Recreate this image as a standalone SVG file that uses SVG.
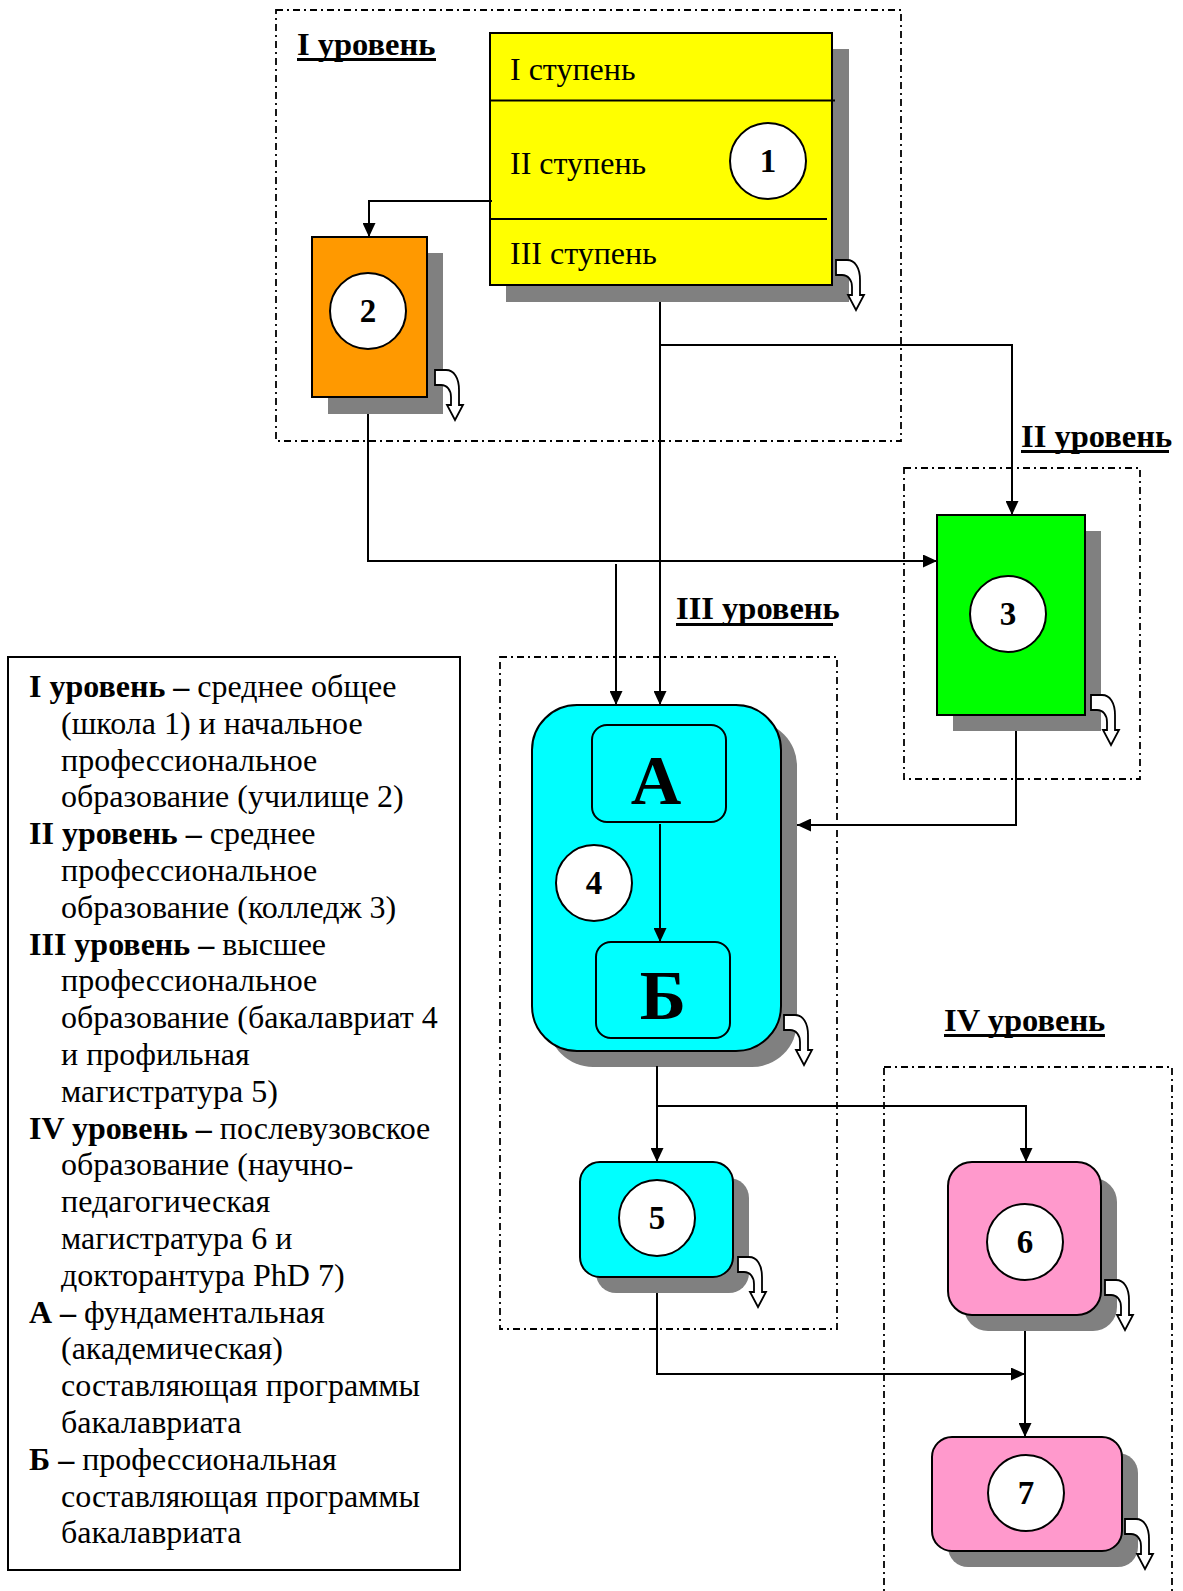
<svg xmlns="http://www.w3.org/2000/svg" width="1183" height="1591" viewBox="0 0 1183 1591">
<defs>
<style>
text{font-family:"Liberation Serif","Times New Roman",serif;fill:#000}
.lvl{fill:none;stroke:#000;stroke-width:1.8;stroke-dasharray:7 4 2 4}
.shd{fill:#808080;stroke:none}
.box{stroke:#000;stroke-width:2}
.circ{fill:#fff;stroke:#000;stroke-width:2}
.num{font-size:33px;font-weight:bold;text-anchor:middle}
.cap{font-size:32px}
.lab{font-size:32.5px;font-weight:bold}
.ul{fill:#000;stroke:none}
.leg{font-size:32px}
.big{font-size:70px;font-weight:bold;text-anchor:middle}
.con{fill:none;stroke:#000;stroke-width:2}
.arr{marker-end:url(#ah)}
.ca{fill:#fff;stroke:#000;stroke-width:1.8}
</style>
<marker id="ah" viewBox="0 0 14 13" refX="14" refY="6.5" markerWidth="14" markerHeight="13" markerUnits="userSpaceOnUse" orient="auto">
<path d="M0,0 L14,6.5 L0,13 Z" fill="#000"/>
</marker>
<path id="curl" d="M0,0 H11 C19,0 24,8 24,20 V35 H28 L20,50 L12,35 H16 V27 C16,20 12,15 6,15 H0 Z"/>
</defs>

<g id="levels">
<rect class="lvl" x="276" y="10" width="625" height="431"/>
<rect class="lvl" x="904" y="468" width="236" height="311"/>
<rect class="lvl" x="500" y="657" width="337" height="672"/>
<rect class="lvl" x="884" y="1067" width="288" height="600"/>
<text class="lab" x="297" y="55">I уровень</text>
<rect class="ul" x="297" y="58" width="139" height="3"/>
<text class="lab" x="1021" y="447">II уровень</text>
<rect class="ul" x="1021" y="450" width="148" height="3"/>
<text class="lab" x="676" y="619">III уровень</text>
<rect class="ul" x="676" y="623" width="157" height="3"/>
<text class="lab" x="944" y="1031">IV уровень</text>
<rect class="ul" x="944" y="1034" width="161" height="3"/>
</g>

<g id="node1">
<rect class="shd" x="506" y="49" width="343" height="253"/>
<rect class="box" x="490" y="33" width="342" height="252" fill="#ffff00"/>
<line x1="490" y1="100.5" x2="835" y2="100.5" stroke="#000" stroke-width="2"/>
<line x1="490" y1="219" x2="827" y2="219" stroke="#000" stroke-width="2"/>
<text class="cap" x="510" y="80">I ступень</text>
<text class="cap" x="510" y="174">II ступень</text>
<text class="cap" x="510" y="264">III ступень</text>
<circle class="circ" cx="768" cy="161" r="38"/>
<text class="num" x="768" y="172">1</text>
<use href="#curl" class="ca" x="836" y="260"/>
</g>

<g id="node2">
<rect class="shd" x="328" y="253" width="115" height="161"/>
<rect class="box" x="312" y="237" width="115" height="160" fill="#ff9900"/>
<circle class="circ" cx="368" cy="311" r="38"/>
<text class="num" x="368" y="322">2</text>
<use href="#curl" class="ca" x="435" y="370"/>
</g>

<g id="node3">
<rect class="shd" x="953" y="531" width="148" height="200"/>
<rect class="box" x="937" y="515" width="148" height="200" fill="#00ff00"/>
<circle class="circ" cx="1008" cy="614" r="38"/>
<text class="num" x="1008" y="625">3</text>
<use href="#curl" class="ca" x="1091" y="695"/>
</g>

<g id="node4">
<rect class="shd" x="548" y="721" width="249" height="346" rx="45"/>
<rect class="box" x="532" y="705" width="249" height="346" rx="45" fill="#00ffff"/>
<rect class="box" x="592" y="725" width="134" height="97" rx="15" fill="#00ffff"/>
<text class="big" x="656" y="804">А</text>
<rect class="box" x="596" y="942" width="134" height="96" rx="15" fill="#00ffff"/>
<text class="big" x="663" y="1019">Б</text>
<circle class="circ" cx="594" cy="883" r="38"/>
<text class="num" x="594" y="894">4</text>
<use href="#curl" class="ca" x="784" y="1015"/>
</g>

<g id="node5">
<rect class="shd" x="596" y="1178" width="153" height="115" rx="20"/>
<rect class="box" x="580" y="1162" width="153" height="115" rx="20" fill="#00ffff"/>
<circle class="circ" cx="657" cy="1218" r="38"/>
<text class="num" x="657" y="1229">5</text>
<use href="#curl" class="ca" x="738" y="1257"/>
</g>

<g id="node6">
<rect class="shd" x="964" y="1178" width="153" height="153" rx="24"/>
<rect class="box" x="948" y="1162" width="153" height="153" rx="24" fill="#ff99cc"/>
<circle class="circ" cx="1025" cy="1242" r="38"/>
<text class="num" x="1025" y="1253">6</text>
<use href="#curl" class="ca" x="1105" y="1280"/>
</g>

<g id="node7">
<rect class="shd" x="948" y="1453" width="190" height="114" rx="20"/>
<rect class="box" x="932" y="1437" width="190" height="114" rx="20" fill="#ff99cc"/>
<circle class="circ" cx="1026" cy="1493" r="38"/>
<text class="num" x="1026" y="1504">7</text>
<use href="#curl" class="ca" x="1125" y="1519"/>
</g>

<g id="connectors">
<path class="con arr" d="M492,201 H369 V237"/>
<path class="con arr" d="M660,302 V705"/>
<path class="con arr" d="M660,345 H1012 V515"/>
<path class="con arr" d="M368,414 V561 H937"/>
<path class="con arr" d="M616,564 V705"/>
<path class="con arr" d="M1016,731 V825 H797"/>
<path class="con arr" d="M660,824 V942"/>
<path class="con arr" d="M657,1066 V1162"/>
<path class="con arr" d="M657,1106 H1026 V1162"/>
<path class="con arr" d="M657,1293 V1374 H1025"/>
<path class="con arr" d="M1025,1331 V1437"/>
</g>

<g id="legend">
<rect x="8" y="657" width="452" height="913" fill="#fff" stroke="#000" stroke-width="2"/>
<text class="leg">
<tspan x="29" y="697"><tspan font-weight="bold">I уровень –</tspan> среднее общее</tspan>
<tspan x="61" y="733.8">(школа 1) и начальное</tspan>
<tspan x="61" y="770.6">профессиональное</tspan>
<tspan x="61" y="807.4">образование (училище 2)</tspan>
<tspan x="29" y="844.2"><tspan font-weight="bold">II уровень –</tspan> среднее</tspan>
<tspan x="61" y="881">профессиональное</tspan>
<tspan x="61" y="917.8">образование (колледж 3)</tspan>
<tspan x="29" y="954.6"><tspan font-weight="bold">III уровень –</tspan> высшее</tspan>
<tspan x="61" y="991.4">профессиональное</tspan>
<tspan x="61" y="1028.2">образование (бакалавриат 4</tspan>
<tspan x="61" y="1065">и профильная</tspan>
<tspan x="61" y="1101.8">магистратура 5)</tspan>
<tspan x="29" y="1138.6"><tspan font-weight="bold">IV уровень –</tspan> послевузовское</tspan>
<tspan x="61" y="1175.4">образование (научно-</tspan>
<tspan x="61" y="1212.2">педагогическая</tspan>
<tspan x="61" y="1249">магистратура 6 и</tspan>
<tspan x="61" y="1285.8">докторантура PhD 7)</tspan>
<tspan x="29" y="1322.6"><tspan font-weight="bold">А –</tspan> фундаментальная</tspan>
<tspan x="61" y="1359.4">(академическая)</tspan>
<tspan x="61" y="1396.2">составляющая программы</tspan>
<tspan x="61" y="1433">бакалавриата</tspan>
<tspan x="29" y="1469.8"><tspan font-weight="bold">Б –</tspan> профессиональная</tspan>
<tspan x="61" y="1506.6">составляющая программы</tspan>
<tspan x="61" y="1543.4">бакалавриата</tspan>
</text>
</g>
</svg>
